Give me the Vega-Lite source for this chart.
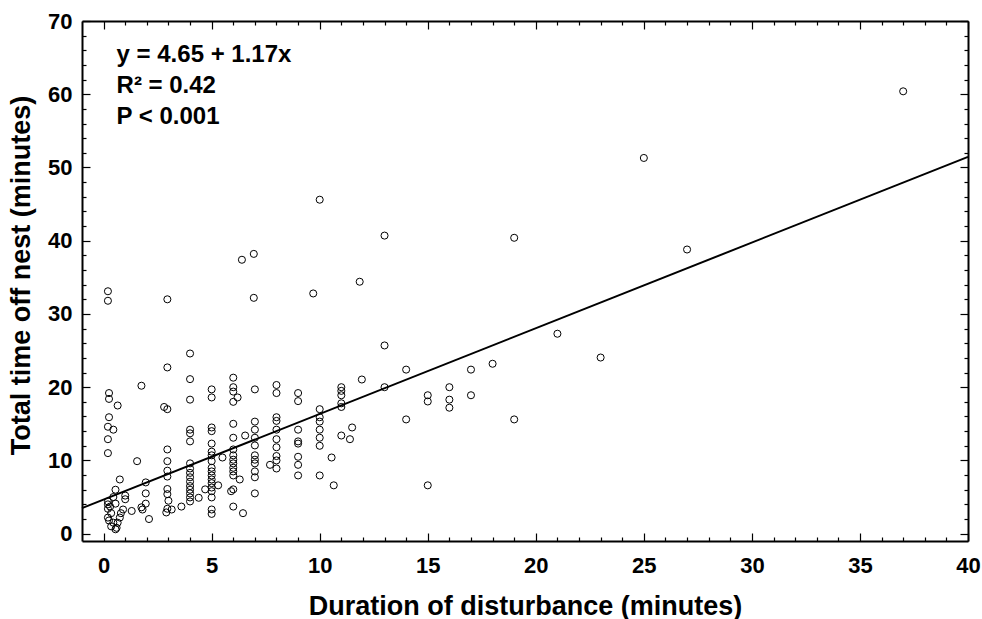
{
  "$schema": "https://vega.github.io/schema/vega-lite/v6.json",
  "width": 886,
  "height": 520,
  "autosize": "none",
  "padding": {"left": 82, "top": 21, "right": 14, "bottom": 78},
  "background": "white",
  "config": {
    "view": {"stroke": null},
    "font": "Liberation Sans",
    "axis": {
      "grid": false,
      "domainColor": "black",
      "domainWidth": 2,
      "tickColor": "black",
      "tickWidth": 1.2,
      "labelColor": "black",
      "labelFont": "Liberation Sans",
      "labelFontWeight": "bold",
      "labelFontSize": 22,
      "titleFont": "Liberation Sans",
      "titleFontWeight": "bold",
      "titleFontSize": 27,
      "titleColor": "black"
    }
  },
  "datasets": {
    "pts": [
      {"d":0.2,"t":33.1},{"d":0.2,"t":31.8},{"d":0.25,"t":19.2},{"d":0.25,"t":18.4},{"d":0.65,"t":17.5},
      {"d":0.25,"t":15.9},{"d":0.2,"t":14.6},{"d":0.45,"t":14.2},{"d":0.2,"t":12.9},{"d":0.2,"t":11.0},
      {"d":0.75,"t":7.4},{"d":0.55,"t":6.0},{"d":0.2,"t":4.4},{"d":0.2,"t":4.0},{"d":0.2,"t":3.4},
      {"d":0.35,"t":2.8},{"d":0.2,"t":2.2},{"d":0.25,"t":1.8},{"d":0.35,"t":1.0},{"d":0.55,"t":0.6},
      {"d":0.65,"t":1.5},{"d":0.75,"t":2.2},{"d":0.8,"t":2.8},{"d":0.9,"t":3.3},{"d":1.0,"t":4.7},
      {"d":1.0,"t":5.2},{"d":0.55,"t":4.1},{"d":0.45,"t":5.0},{"d":0.3,"t":3.7},{"d":0.45,"t":1.5},
      {"d":0.6,"t":0.8},{"d":1.3,"t":3.1},{"d":1.55,"t":9.9},{"d":1.75,"t":20.2},{"d":1.75,"t":3.6},
      {"d":1.95,"t":7.0},{"d":1.95,"t":5.5},{"d":1.95,"t":4.1},{"d":1.8,"t":3.3},{"d":2.1,"t":2.0},
      {"d":2.8,"t":17.3},{"d":2.95,"t":17.0},{"d":2.95,"t":32.0},{"d":2.95,"t":22.7},{"d":2.95,"t":11.5},
      {"d":2.95,"t":9.9},{"d":2.95,"t":8.6},{"d":2.95,"t":7.8},{"d":2.95,"t":6.1},{"d":2.95,"t":5.4},
      {"d":3.0,"t":4.5},{"d":2.95,"t":3.4},{"d":2.9,"t":2.9},{"d":3.6,"t":3.7},{"d":3.15,"t":3.3},
      {"d":4,"t":24.6},{"d":4,"t":21.1},{"d":4,"t":18.3},{"d":4,"t":14.2},{"d":4,"t":13.7},
      {"d":4,"t":12.6},{"d":4,"t":9.6},{"d":4,"t":8.9},{"d":4,"t":8.3},{"d":4,"t":7.7},
      {"d":4,"t":7.1},{"d":4,"t":6.5},{"d":4,"t":6.0},{"d":4,"t":5.5},{"d":4,"t":4.95},
      {"d":4,"t":4.4},{"d":4.4,"t":4.9},{"d":4.7,"t":6.05},
      {"d":5,"t":19.7},{"d":5,"t":18.6},{"d":5,"t":14.5},{"d":5,"t":14.0},{"d":5,"t":12.3},
      {"d":5,"t":11.2},{"d":5,"t":10.7},{"d":5,"t":9.9},{"d":5,"t":9.0},{"d":5,"t":8.5},
      {"d":5,"t":7.95},{"d":5,"t":7.4},{"d":5,"t":6.9},{"d":5,"t":6.3},{"d":5,"t":5.8},
      {"d":5,"t":4.95},{"d":5,"t":3.3},{"d":5,"t":2.7},{"d":5.3,"t":6.6},{"d":5.5,"t":10.4},
      {"d":6,"t":21.3},{"d":6,"t":20.0},{"d":6,"t":19.4},{"d":6,"t":18.0},{"d":6.2,"t":18.6},
      {"d":6,"t":15.0},{"d":6,"t":13.1},{"d":6,"t":11.5},{"d":6,"t":10.7},{"d":6,"t":10.1},
      {"d":6,"t":9.6},{"d":6,"t":9.0},{"d":6,"t":8.5},{"d":6,"t":7.95},{"d":6.3,"t":7.4},
      {"d":6,"t":6.05},{"d":5.9,"t":5.8},{"d":6,"t":3.7},{"d":6.45,"t":2.8},{"d":6.55,"t":13.4},
      {"d":6.4,"t":37.4},
      {"d":6.95,"t":38.2},{"d":6.95,"t":32.2},{"d":7,"t":19.7},{"d":7,"t":15.3},{"d":7,"t":14.2},
      {"d":7,"t":13.1},{"d":7,"t":12.05},{"d":7,"t":10.7},{"d":7,"t":10.1},{"d":7,"t":9.6},
      {"d":7,"t":8.5},{"d":7,"t":7.7},{"d":7,"t":5.5},
      {"d":8,"t":20.3},{"d":8,"t":19.2},{"d":8,"t":15.9},{"d":8,"t":15.4},{"d":8,"t":14.2},
      {"d":8,"t":12.9},{"d":8,"t":11.8},{"d":8,"t":10.6},{"d":8,"t":10.0},{"d":8,"t":8.9},
      {"d":7.7,"t":9.4},
      {"d":9,"t":19.2},{"d":9,"t":18.1},{"d":9,"t":14.2},{"d":9,"t":12.6},{"d":9,"t":12.3},
      {"d":9,"t":10.5},{"d":9,"t":9.4},{"d":9,"t":7.95},
      {"d":9.7,"t":32.8},{"d":10,"t":45.6},{"d":10,"t":17.0},{"d":10,"t":15.9},{"d":10,"t":15.3},
      {"d":10,"t":14.2},{"d":10,"t":13.1},{"d":10,"t":12.0},{"d":10,"t":7.95},{"d":10.55,"t":10.4},
      {"d":10.65,"t":6.6},
      {"d":11,"t":20.0},{"d":11,"t":19.5},{"d":11,"t":18.9},{"d":11,"t":17.8},{"d":11,"t":17.3},
      {"d":11,"t":13.4},{"d":11.4,"t":12.9},{"d":11.5,"t":14.5},{"d":11.85,"t":34.4},{"d":11.95,"t":21.05},
      {"d":13,"t":40.7},{"d":13,"t":25.7},{"d":13,"t":20.0},
      {"d":14,"t":22.4},{"d":14,"t":15.6},
      {"d":15,"t":18.9},{"d":15,"t":18.05},{"d":15,"t":6.6},
      {"d":16,"t":20.0},{"d":16,"t":18.3},{"d":16,"t":17.2},
      {"d":17,"t":22.4},{"d":17,"t":18.9},
      {"d":18,"t":23.2},
      {"d":19,"t":40.4},{"d":19,"t":15.6},
      {"d":21,"t":27.3},
      {"d":23,"t":24.05},
      {"d":25,"t":51.3},
      {"d":27,"t":38.8},
      {"d":37,"t":60.4}
    ],
    "fit": [
      {"d": -1, "t": 3.48},
      {"d": 40, "t": 51.45}
    ],
    "notes": [
      {"d": 0.6, "t": 65.3, "label": "y = 4.65 + 1.17x"},
      {"d": 0.6, "t": 61.1, "label": "R² = 0.42"},
      {"d": 0.6, "t": 56.9, "label": "P < 0.001"}
    ]
  },
  "layer": [
    {
      "data": {"name": "pts"},
      "mark": {"type": "point", "filled": false, "stroke": "black", "strokeWidth": 1, "size": 50, "opacity": 1},
      "encoding": {
        "x": {
          "field": "d", "type": "quantitative",
          "scale": {"domain": [-1, 40], "nice": false, "zero": false},
          "axis": {
            "orient": "bottom",
            "title": "Duration of disturbance (minutes)",
            "values": [0,1,2,3,4,5,6,7,8,9,10,11,12,13,14,15,16,17,18,19,20,21,22,23,24,25,26,27,28,29,30,31,32,33,34,35,36,37,38,39,40],
            "tickSize": {"condition": {"test": "datum.value % 5 === 0", "value": -8}, "value": -4},
            "labelExpr": "datum.value % 5 === 0 ? datum.label : ''",
            "labelPadding": 22,
            "labelFlush": false,
            "labelOverlap": false,
            "titleX": 443,
            "titleY": 65,
            "titleBaseline": "middle"
          }
        },
        "y": {
          "field": "t", "type": "quantitative",
          "scale": {"domain": [-1, 70], "nice": false, "zero": false},
          "axis": {
            "orient": "left",
            "title": "Total time off nest (minutes)",
            "values": [0,2,4,6,8,10,12,14,16,18,20,22,24,26,28,30,32,34,36,38,40,42,44,46,48,50,52,54,56,58,60,62,64,66,68,70],
            "tickSize": {"condition": {"test": "datum.value % 10 === 0", "value": -8}, "value": -4},
            "labelExpr": "datum.value % 10 === 0 ? datum.label : ''",
            "labelPadding": 18,
            "labelFlush": false,
            "labelOverlap": false,
            "titleX": -61,
            "titleY": 254,
            "titleAngle": -90,
            "titleAlign": "center",
            "titleBaseline": "middle"
          }
        }
      }
    },
    {
      "data": {"name": "fit"},
      "mark": {"type": "line", "color": "black", "strokeWidth": 2},
      "encoding": {
        "x": {
          "field": "d", "type": "quantitative",
          "axis": {
            "orient": "top",
            "title": null,
            "values": [0,1,2,3,4,5,6,7,8,9,10,11,12,13,14,15,16,17,18,19,20,21,22,23,24,25,26,27,28,29,30,31,32,33,34,35,36,37,38,39,40],
            "tickSize": {"condition": {"test": "datum.value % 5 === 0", "value": -8}, "value": -4},
            "labels": false
          }
        },
        "y": {
          "field": "t", "type": "quantitative",
          "axis": {
            "orient": "right",
            "title": null,
            "values": [0,2,4,6,8,10,12,14,16,18,20,22,24,26,28,30,32,34,36,38,40,42,44,46,48,50,52,54,56,58,60,62,64,66,68,70],
            "tickSize": {"condition": {"test": "datum.value % 10 === 0", "value": -8}, "value": -4},
            "labels": false
          }
        }
      }
    },
    {
      "data": {"name": "notes"},
      "mark": {"type": "text", "align": "left", "baseline": "middle", "font": "Liberation Sans", "fontWeight": "bold", "fontSize": 24, "color": "black"},
      "encoding": {
        "x": {"field": "d", "type": "quantitative", "axis": null},
        "y": {"field": "t", "type": "quantitative", "axis": null},
        "text": {"field": "label"}
      }
    }
  ],
  "resolve": {"axis": {"x": "independent", "y": "independent"}}
}
